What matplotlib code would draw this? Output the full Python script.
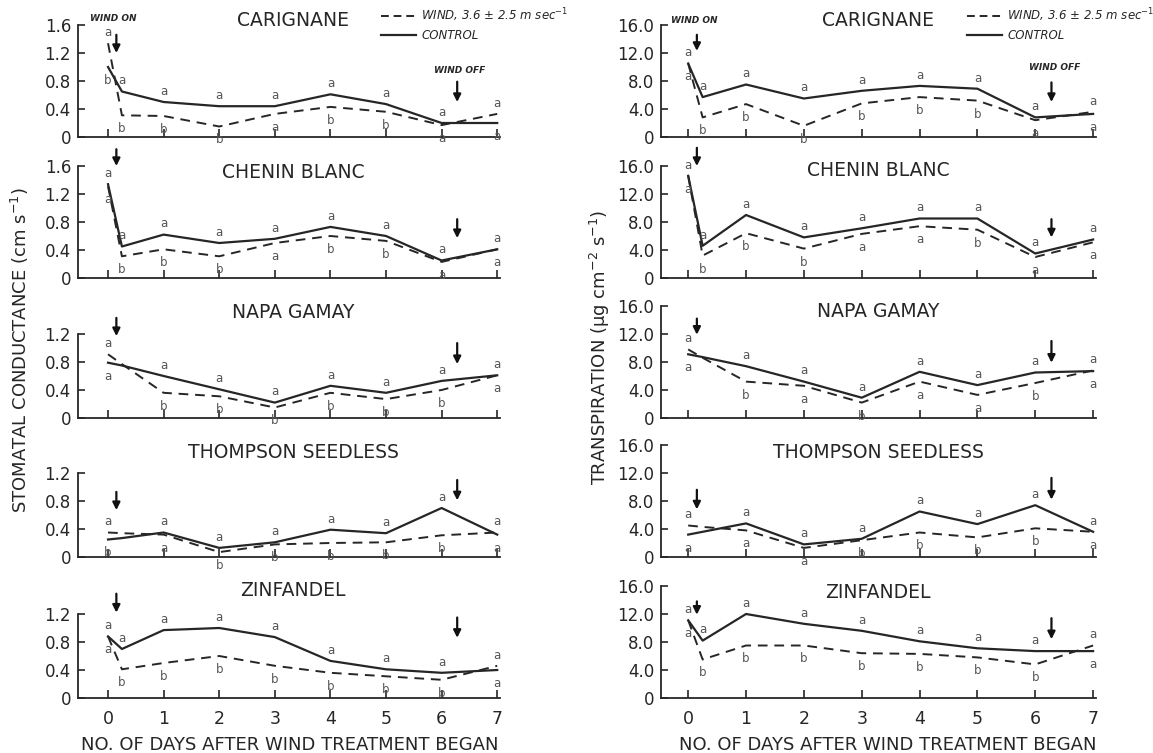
import matplotlib
matplotlib.use("Agg")
import matplotlib.pyplot as plt
from matplotlib.lines import Line2D

# days after the wind treatment began (0.25 = reading shortly after wind on)
DAYS = [0, 0.25, 1, 2, 3, 4, 5, 6, 7]
VARIETIES = ["CARIGNANE", "CHENIN BLANC", "NAPA GAMAY", "THOMPSON SEEDLESS", "ZINFANDEL"]

# stomatal conductance (cm s-1)
COND_WIND = [
    [1.34, 0.31, 0.30, 0.15, 0.33, 0.43, 0.36, 0.17, 0.33],
    [1.31, 0.31, 0.41, 0.31, 0.50, 0.60, 0.53, 0.23, 0.41],
    [0.91, 0.77, 0.36, 0.31, 0.15, 0.36, 0.27, 0.40, 0.61],
    [0.35, 0.34, 0.32, 0.07, 0.18, 0.20, 0.21, 0.31, 0.35],
    [0.88, 0.41, 0.50, 0.60, 0.46, 0.36, 0.31, 0.26, 0.46],
]
COND_CONTROL = [
    [1.00, 0.65, 0.50, 0.44, 0.44, 0.61, 0.47, 0.20, 0.20],
    [1.34, 0.45, 0.62, 0.50, 0.56, 0.73, 0.60, 0.25, 0.41],
    [0.79, 0.75, 0.60, 0.41, 0.22, 0.46, 0.36, 0.53, 0.61],
    [0.25, 0.27, 0.35, 0.13, 0.21, 0.39, 0.34, 0.70, 0.32],
    [0.88, 0.70, 0.97, 1.00, 0.87, 0.53, 0.41, 0.36, 0.40],
]
# transpiration (ug cm-2 s-1)
TRANS_WIND = [
    [10.5, 2.8, 4.7, 1.6, 4.8, 5.7, 5.2, 2.4, 3.6],
    [14.6, 3.2, 6.4, 4.2, 6.3, 7.4, 6.9, 3.0, 5.1],
    [9.8, 8.6, 5.2, 4.6, 2.2, 5.2, 3.3, 5.0, 6.8],
    [4.5, 4.3, 3.8, 1.3, 2.4, 3.5, 2.8, 4.1, 3.6],
    [11.1, 5.5, 7.5, 7.5, 6.4, 6.3, 5.8, 4.8, 7.5],
]
TRANS_CONTROL = [
    [10.5, 5.7, 7.5, 5.5, 6.6, 7.3, 6.9, 2.8, 3.3],
    [14.6, 4.6, 9.0, 5.8, 7.1, 8.5, 8.5, 3.5, 5.5],
    [9.1, 8.7, 7.4, 5.2, 2.9, 6.6, 4.7, 6.5, 6.7],
    [3.2, 3.6, 4.8, 1.8, 2.6, 6.5, 4.7, 7.4, 3.6],
    [11.1, 8.2, 12.0, 10.6, 9.6, 8.1, 7.1, 6.7, 6.7],
]

# significance letters, upper and lower, one per day (blank = none)
COND_TOP = ["aaaaaaaaa", "aaaaaaaaa", "a aaaaaaa", "a aaaaaaa", "aaaaaaaaa"]
COND_BOT = ["bbbbabbaa", "abbbabbaa", "a bbbbbba", "b abbbbba", "abbbbbbba"]
TRANS_TOP = ["aaaaaaaaa", "aaaaaaaaa", "a aaaaaaa", "a aaaaaaa", "aaaaaaaaa"]
TRANS_BOT = ["abbbbbbaa", "abbbaabaa", "a babaaba", "a aabbbba", "abbbbbbba"]

# wind on / wind off arrows (day, arrow start, arrow end)
WIND_ON_DAY = 0.15
WIND_OFF_DAY = 6.28
COND_ON_ARROW = [(1.46, 1.2), (1.84, 1.6), (1.43, 1.17), (0.93, 0.67), (1.49, 1.22)]
COND_OFF_ARROW = [(0.79, 0.5), (0.84, 0.57), (1.07, 0.77), (1.10, 0.81), (1.15, 0.86)]
TRANS_ON_ARROW = [(14.6, 12.3), (18.6, 16.0), (14.2, 11.9), (9.6, 6.8), (13.8, 11.9)]
TRANS_OFF_ARROW = [(7.8, 5.0), (8.4, 5.8), (11.0, 7.9), (11.3, 8.2), (11.4, 8.4)]

COND_YMAX = [1.6, 1.6, 1.2, 1.2, 1.2]
COND_TICKS = [0, 0.4, 0.8, 1.2, 1.6]
COND_TICKLABELS = ["0", "0.4", "0.8", "1.2", "1.6"]
TRANS_TICKS = [0, 4, 8, 12, 16]
TRANS_TICKLABELS = ["0", "4.0", "8.0", "12.0", "16.0"]

INK = "#262626"
LETTER = "#555555"
plt.rcParams["font.family"] = ["DejaVu Sans"]

W, H = 1153, 753
fig = plt.figure(figsize=(W / 100, H / 100), dpi=100)


def px_axes(x0, x1, ytop, ybot):
    return fig.add_axes([x0 / W, 1 - ybot / H, (x1 - x0) / W, (ybot - ytop) / H])


def style_axes(ax, xlim, ymax, ticks, ticklabels, bottom):
    ax.set_xlim(*xlim)
    ax.set_ylim(0, ymax)
    for s in ["top", "right"]:
        ax.spines[s].set_visible(False)
    for s in ["left", "bottom"]:
        ax.spines[s].set_color(INK)
        ax.spines[s].set_linewidth(1.3)
    ax.spines["bottom"].set_bounds(xlim[0], 7.05)
    yt = [t for t in ticks if t <= ymax + 1e-9]
    ax.set_yticks(yt)
    ax.set_yticklabels(ticklabels[:len(yt)])
    ax.set_xticks(range(8))
    if bottom:
        ax.set_xticklabels([str(d) for d in range(8)])
    else:
        ax.set_xticklabels([])
    ax.tick_params(axis="x", direction="in", length=6, width=1.2, color=INK,
                   labelsize=12.5, labelcolor=INK, pad=9)
    ax.tick_params(axis="y", direction="in", length=5, width=1.2, color=INK,
                   labelsize=12, labelcolor=INK, pad=5)
    ax.patch.set_alpha(0)


def draw_panel(ax, wind, control, top, bot, on_arrow, off_arrow, ymax):
    ax.plot(DAYS, wind, color=INK, lw=1.4, ls=(0, (5, 3.5)), clip_on=False)
    ax.plot(DAYS, control, color=INK, lw=1.6, clip_on=False)
    for d, w, c, lt, lb in zip(DAYS, wind, control, top, bot):
        if lt.strip():
            ax.annotate(lt, (d, max(w, c)), xytext=(0, 3), textcoords="offset points",
                        ha="center", va="bottom", fontsize=8.5, color=LETTER)
        if lb.strip():
            ax.annotate(lb, (d, min(w, c)), xytext=(0, -5), textcoords="offset points",
                        ha="center", va="top", fontsize=8.5, color=LETTER)
    for day, (y0, y1) in [(WIND_ON_DAY, on_arrow), (WIND_OFF_DAY, off_arrow)]:
        ax.annotate("", xy=(day, y1), xytext=(day, y0), annotation_clip=False,
                    arrowprops=dict(arrowstyle="-|>", color="#111111", lw=1.6,
                                    mutation_scale=11, shrinkA=0, shrinkB=0))


BASE = [137, 278, 418, 557, 698]
LEFT_TITLE_Y = [20, 172, 312, 453, 591]
RIGHT_TITLE_Y = [20, 170, 311, 452, 592]

axes_left, axes_right = [], []
for i, name in enumerate(VARIETIES):
    bottom = i == 4
    hl = COND_YMAX[i] * 70
    axl = px_axes(78, 500, BASE[i] - hl, BASE[i])
    style_axes(axl, (-0.54, 7.05), COND_YMAX[i], COND_TICKS, COND_TICKLABELS, bottom)
    draw_panel(axl, COND_WIND[i], COND_CONTROL[i], COND_TOP[i], COND_BOT[i],
               COND_ON_ARROW[i], COND_OFF_ARROW[i], COND_YMAX[i])
    axr = px_axes(661, 1096, BASE[i] - 112, BASE[i])
    style_axes(axr, (-0.47, 7.05), 16, TRANS_TICKS, TRANS_TICKLABELS, bottom)
    draw_panel(axr, TRANS_WIND[i], TRANS_CONTROL[i], TRANS_TOP[i], TRANS_BOT[i],
               TRANS_ON_ARROW[i], TRANS_OFF_ARROW[i], 16)
    fig.text(293 / W, 1 - LEFT_TITLE_Y[i] / H, name, ha="center", va="center",
             fontsize=13.5, color=INK)
    fig.text(878 / W, 1 - RIGHT_TITLE_Y[i] / H, name, ha="center", va="center",
             fontsize=13.5, color=INK)
    axes_left.append(axl)
    axes_right.append(axr)

# wind on / off captions in the top panels
for ax, on_y, off_y, on_x in [(axes_left[0], 1.69, 0.88, -0.32), (axes_right[0], 16.6, 9.3, -0.3)]:
    ax.text(on_x, on_y, "WIND ON", fontsize=6.5, fontweight="bold", fontstyle="italic",
            color=INK, va="center", ha="left")
    ax.text(WIND_OFF_DAY + 0.05, off_y, "WIND OFF", fontsize=6.5, fontweight="bold",
            fontstyle="italic", color=INK, va="bottom", ha="center")

# legends
handles = [Line2D([], [], color=INK, lw=1.4, ls=(0, (4, 2.5))),
           Line2D([], [], color=INK, lw=1.6)]
labels = ["WIND, 3.6 \u00b1 2.5 m sec$^{-1}$", "CONTROL"]
for x0 in [381, 967]:
    fig.legend(handles, labels, loc="upper left", bbox_to_anchor=(x0 / W, 1 - 6 / H),
               frameon=False, handlelength=3.0, handletextpad=0.4, labelspacing=0.45,
               borderpad=0, borderaxespad=0,
               prop=dict(size=8.5, style="italic"), labelcolor=INK)

# axis labels
fig.text(20 / W, 1 - 350 / H, "STOMATAL CONDUCTANCE (cm s$^{-1}$)", rotation=90,
         ha="center", va="center", fontsize=13, color=INK)
fig.text(600 / W, 1 - 347 / H, "TRANSPIRATION (\u03bcg cm$^{-2}$ s$^{-1}$)", rotation=90,
         ha="center", va="center", fontsize=13, color=INK)
fig.text(290 / W, 1 - 745 / H, "NO. OF DAYS AFTER WIND TREATMENT BEGAN",
         ha="center", va="center", fontsize=13, color=INK)
fig.text(888 / W, 1 - 745 / H, "NO. OF DAYS AFTER WIND TREATMENT BEGAN",
         ha="center", va="center", fontsize=13, color=INK)

fig.savefig("out.png", dpi=100, facecolor="white")
